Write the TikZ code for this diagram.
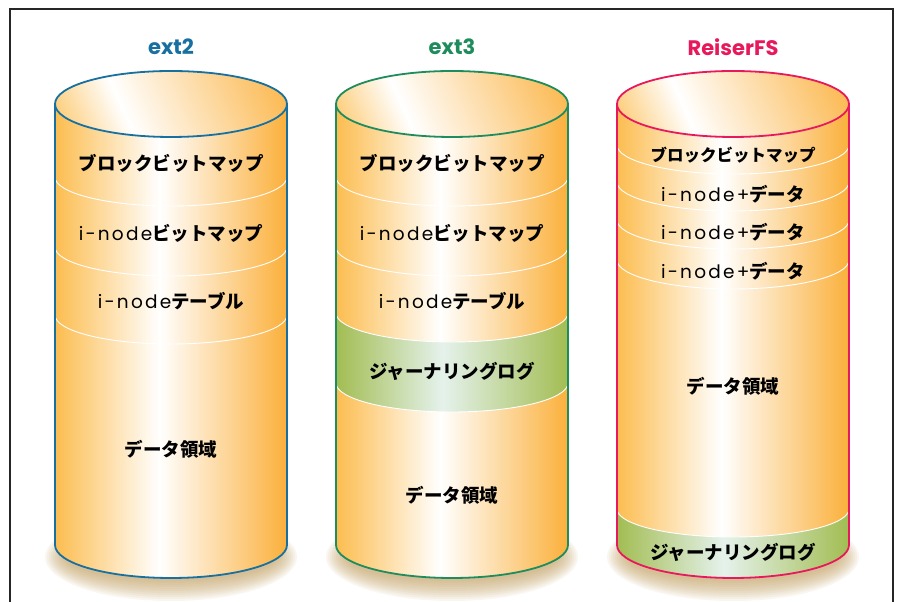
\documentclass[tikz,border=0pt]{standalone}
\usepackage{fontspec}
\newfontfamily\jpf{Noto Sans CJK JP}
\newfontfamily\latf{Poppins}[LetterSpace=12]
\newfontfamily\ttlf{Poppins}
\definecolor{orL}{HTML}{FCBD50}
\definecolor{orR}{HTML}{FBB03B}
\definecolor{grE}{HTML}{A2BD52}
\definecolor{grC}{HTML}{E5F2EC}
\definecolor{cBlue}{HTML}{17709F}
\definecolor{cGreen}{HTML}{1E8C5C}
\definecolor{cPink}{HTML}{E8185C}
\definecolor{shadowc}{HTML}{C4A262}
\definecolor{framec}{HTML}{262626}
\pgfdeclarehorizontalshading{bodysh}{100bp}{color(0bp)=(orL); color(25bp)=(orL); color(47.5bp)=(white); color(75bp)=(orR); color(100bp)=(orR)}
\pgfdeclarehorizontalshading{topsh}{100bp}{color(0bp)=(orL); color(25bp)=(orL); color(41bp)=(white); color(75bp)=(orR); color(100bp)=(orR)}
\pgfdeclarehorizontalshading{greensh}{100bp}{color(0bp)=(grE); color(25bp)=(grE); color(48bp)=(grC); color(75bp)=(grE); color(100bp)=(grE)}
\tikzset{
  jt/.style={font=\jpf\bfseries\fontsize{18.5}{20}\selectfont, inner sep=0pt},
  jts/.style={font=\jpf\bfseries\fontsize{16.5}{18}\selectfont, inner sep=0pt},
  ttl/.style={font=\ttlf\bfseries\fontsize{21}{23}\selectfont, inner sep=0pt},
  sep/.style={draw=white, line width=0.9pt},
  outl/.style={line width=1.8pt},
}
\newcommand\inode{{\latf\mdseries i-node}}
\newcommand\inodep{{\latf\mdseries i-node+}}
% base of a cylinder: shadow and body
\newcommand\mycylbase[1]{%
  \foreach \k in {0,...,10} {
    \fill[shadowc, opacity=0.09] (#1,45) ellipse ({106+2*\k} and {24+2*\k});
  }
  \begin{scope}
    \clip (#1-116,498) -- (#1-116,57) arc[start angle=180, end angle=360, x radius=116, y radius=33] -- (#1+116,498) -- cycle;
    \shade[shading=bodysh] (#1-116,20) rectangle (#1+116,500);
  \end{scope}}
% top ellipse and outline
\newcommand\mycyltop[2]{%
  \begin{scope}
    \clip (#1,498) ellipse (116 and 33);
    \shade[shading=topsh, shading angle=24] (#1-130,368) rectangle (#1+130,628);
  \end{scope}
  \draw[sep] (#1-116,498) arc[start angle=180, end angle=360, x radius=116, y radius=33];
  \draw[#2, outl] (#1,498) ellipse (116 and 33);
  \draw[#2, outl, line join=round] (#1-116,498) -- (#1-116,57) arc[start angle=180, end angle=360, x radius=116, y radius=33] -- (#1+116,498);}
\newcommand\mysep[2]{%
  \draw[sep] (#1-116,#2) arc[start angle=180, end angle=360, x radius=116, y radius=29];}
\begin{document}
\begin{tikzpicture}[x=1pt, y=1pt]
\useasboundingbox (0,0) rectangle (898,602);
\fill[white] (0,0) rectangle (898,602);
\draw[framec, line width=1.3pt] (10,-2) -- (10,593) -- (893,593) -- (893,-2);

% ---------- ext2 ----------
\mycylbase{171}
\mysep{171}{425}
\mysep{171}{355}
\mysep{171}{287}
\mycyltop{171}{cBlue}
\node[ttl, text=cBlue] (t1) at (171,555) {ext2};
\node[jt] (a1) at (171,439) {ブロックビットマップ};
\node[jt] (a2) at (171,369) {\inode ビットマップ};
\node[jt] (a3) at (171,301) {\inode テーブル};
\node[jt] (a4) at (171,153) {データ領域};

% ---------- ext3 ----------
\mycylbase{452}
\shade[shading=greensh] (452-116,289) arc[start angle=180, end angle=360, x radius=116, y radius=29] -- (452+116,219) arc[start angle=0, end angle=-180, x radius=116, y radius=29] -- cycle;
\mysep{452}{425}
\mysep{452}{355}
\mysep{452}{289}
\mysep{452}{219}
\mycyltop{452}{cGreen}
\node[ttl, text=cGreen] (t2) at (452,555) {ext3};
\node[jt] (b1) at (452,439) {ブロックビットマップ};
\node[jt] (b2) at (452,369) {\inode ビットマップ};
\node[jt] (b3) at (452,301) {\inode テーブル};
\node[jt] (b4) at (452,231) {ジャーナリングログ};
\node[jt] (b5) at (452,107) {データ領域};

% ---------- ReiserFS ----------
\mycylbase{733}
\shade[shading=greensh] (733-116,93) arc[start angle=180, end angle=360, x radius=116, y radius=28] -- (733+116,57) arc[start angle=0, end angle=-180, x radius=116, y radius=33] -- cycle;
\mysep{733}{457}
\mysep{733}{420}
\mysep{733}{382}
\mysep{733}{342}
\draw[sep] (733-116,93) arc[start angle=180, end angle=360, x radius=116, y radius=28];
\mycyltop{733}{cPink}
\node[ttl, text=cPink] (t3) at (733,555) {ReiserFS};
\node[jts] (c1) at (733,447) {ブロックビットマップ};
\node[jt] (c2) at (733,408) {\inodep データ};
\node[jt] (c3) at (733,370) {\inodep データ};
\node[jt] (c4) at (733,331) {\inodep データ};
\node[jt] (c5) at (733,216) {データ領域};
\node[jt] (c6) at (733,50) {ジャーナリングログ};
\end{tikzpicture}
\end{document}
